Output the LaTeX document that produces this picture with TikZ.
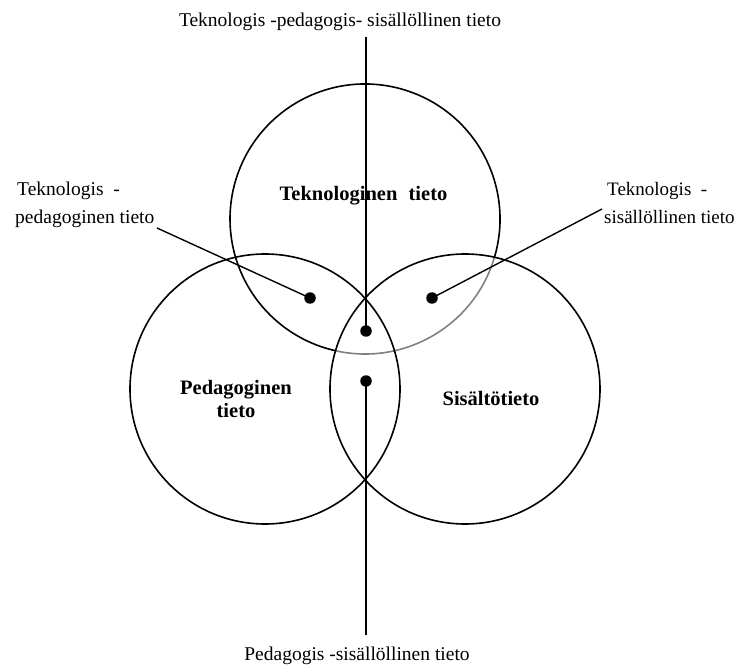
\documentclass[tikz,border=0pt]{standalone}
\usepackage{fontspec}
\setmainfont{Liberation Serif}
\begin{document}
\begin{tikzpicture}[x=1pt,y=1pt,
  ring/.style={line width=1.6pt},
  dot/.style={circle,fill=black,inner sep=0pt,minimum size=11.5pt},
  lead/.style={line width=1.4pt},
  lbl/.style={font=\fontsize{19.5}{23}\selectfont,inner sep=0pt},
  rlbl/.style={font=\fontsize{19}{23}\selectfont,inner sep=0pt},
  blbl/.style={font=\fontsize{20.5}{23}\selectfont\bfseries,inner sep=0pt}]
\useasboundingbox (0,0) rectangle (739,665);
% circles
\draw[ring] (365,446) ++(-16.5:135) arc[start angle=-16.5,end angle=257.4,radius=135];
\draw[ring,gray] (365,446) ++(257.4:135) arc[start angle=257.4,end angle=343.5,radius=135];
\draw[ring] (265,276) circle[radius=135];
\draw[ring] (465,276) circle[radius=135];
% texts
\node[lbl,anchor=base] (top) at (340,638) {Teknologis -pedagogis- sisällöllinen tieto};
\node[lbl,anchor=base] (bot) at (357,5) {Pedagogis -sisällöllinen tieto};
\node[lbl,anchor=base west] (tp1) at (17,469) {Teknologis\hspace{0.5em}-};
\node[lbl,anchor=base west] (tp2) at (15,441) {pedagoginen tieto};
\node[rlbl,anchor=base west] (ts1) at (607,469) {Teknologis\hspace{0.5em}-};
\node[rlbl,anchor=base west] (ts2) at (604,441) {sisällöllinen tieto};
\node[blbl,anchor=base] (tk) at (363.5,464) {Teknologinen\hspace{0.3em} tieto};
\node[blbl,anchor=base] (pd1) at (236,271) {Pedagoginen};
\node[blbl,anchor=base] (pd2) at (236,248) {tieto};
\node[blbl,anchor=base] (si) at (491,260) {Sisältötieto};
% dots
\node[dot] (d1) at (310,367) {};
\node[dot] (d2) at (432,367) {};
\node[dot] (d3) at (366,334) {};
\node[dot] (d4) at (366,284) {};
% connectors
\coordinate (c1) at (157,437);
\coordinate (c2) at (602,456);
\coordinate (c3) at (366,628);
\coordinate (c4) at (366,30);
\draw[lead] (c1) -- (d1.center);
\draw[lead] (d2.center) -- (c2);
\draw[lead] (c3) -- (d3.center);
\draw[lead] (d4.center) -- (c4);
\end{tikzpicture}
\end{document}
